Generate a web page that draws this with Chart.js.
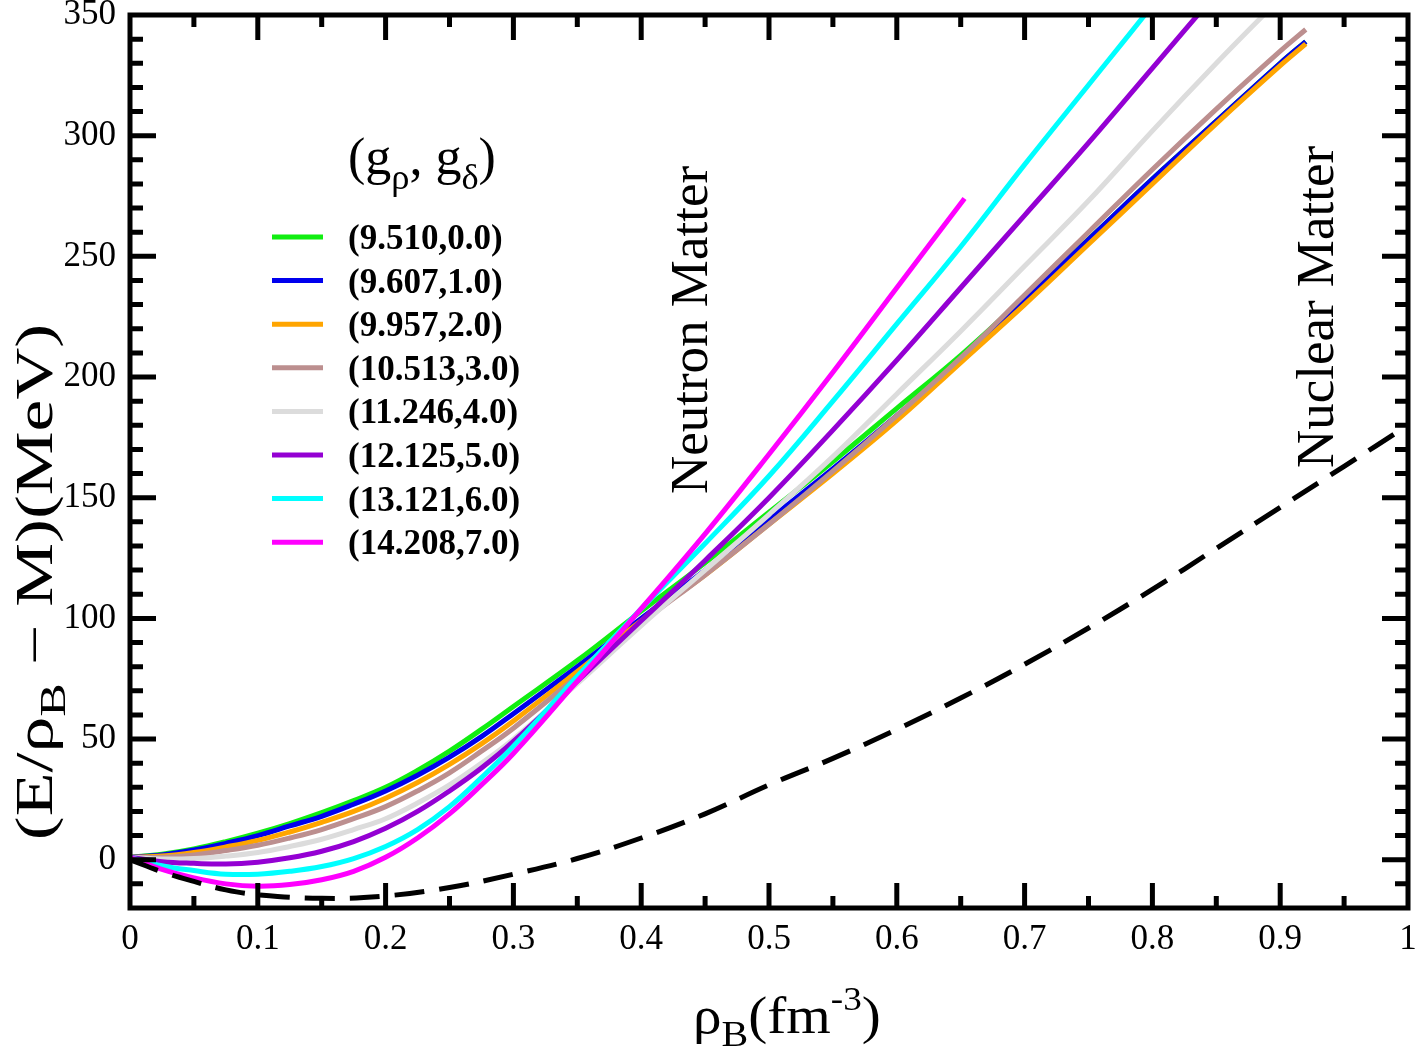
<!DOCTYPE html>
<html>
<head>
<meta charset="utf-8">
<script src="https://cdn.jsdelivr.net/npm/chart.js@4.4.1/dist/chart.umd.min.js"></script>
<style>
    html, body { margin: 0; padding: 0; background: #fff; }
    #wrap { width: 1417px; height: 1059px; position: relative; }
</style>
</head>
<body>
<div id="wrap"><canvas id="eosChart"></canvas></div>
<script>
// density grid (fm^-3) shared by the neutron matter curves
const rho = [0, 0.025, 0.05, 0.075, 0.1, 0.125, 0.15, 0.175, 0.2, 0.225, 0.25, 0.275, 0.3, 0.35, 0.4, 0.45, 0.5, 0.55, 0.6, 0.65, 0.7, 0.75, 0.8, 0.85, 0.9, 0.92];
const rhoMagenta = [0, 0.025, 0.05, 0.075, 0.1, 0.125, 0.15, 0.175, 0.2, 0.225, 0.25, 0.275, 0.3, 0.35, 0.4, 0.45, 0.5, 0.55, 0.6, 0.653];
const rhoNuclear = [0, 0.025, 0.05, 0.075, 0.1, 0.15, 0.2, 0.25, 0.3, 0.35, 0.4, 0.45, 0.5, 0.55, 0.6, 0.65, 0.7, 0.75, 0.8, 0.85, 0.9, 0.95, 1.0];

// E/rho_B - M (MeV), neutron matter, one array per (g_rho, g_delta)
const eDelta0 = [1, 2.3, 4.5, 7.5, 11, 15, 19.5, 24.5, 30, 37, 45, 54, 63.5, 82.5, 103, 123, 144, 165, 187, 209, 233, 257, 282, 306, 330, 339];
const eDelta1 = [1, 2, 4, 6.8, 10, 14, 18, 23, 28.5, 35, 42.5, 51, 60.5, 80, 100, 120, 141, 162, 184, 207, 232, 257, 282, 306, 330, 339];
const eDelta2 = [1, 1.5, 3, 5.3, 8, 11.5, 15.5, 20, 25.5, 32, 39.5, 48, 57.5, 78, 99, 118, 139, 160, 182, 206, 230, 255, 280, 305, 329, 338];
const eDelta3 = [1, 1, 2, 3.8, 6, 9, 12.5, 17, 22, 28.5, 36, 45, 54.5, 76, 98, 118, 139, 161, 184, 208, 234, 260, 286, 311, 335, 344];
const eDelta4 = [1, 0.3, 0.5, 1.5, 3, 5.5, 8.5, 12.5, 17, 23.5, 31, 40, 50, 73, 97, 120, 143, 167, 193, 219, 246, 273, 302, 330, 357, 368];
const eDelta5 = [1, -0.8, -1.5, -1.8, -1, 0.8, 3.5, 7.5, 13, 20, 28.5, 38, 49, 74, 99, 124, 150, 178, 207, 237, 267, 297, 328, 359, 390, 402];
const eDelta6 = [1, -2.5, -4.5, -6, -6, -4.8, -2.8, 0.5, 5.5, 12.5, 22, 34, 47, 76, 104, 131, 159, 190, 222, 254, 288, 321, 354, 388, 422, 436];
const eDelta7 = [1, -4, -7.5, -10, -11, -10.3, -8.3, -4.8, 1, 9, 19, 31, 44, 74, 104, 135, 168, 202, 237, 274];

// symmetric nuclear matter (dashed)
const eNuclear = [0, -5, -9, -12.5, -14.5, -16, -15, -11.5, -6, 0.5, 9, 19, 31, 42, 54, 67, 81, 96, 112, 129, 146, 163, 180];

const seriesLabels = ["(9.510,0.0)", "(9.607,1.0)", "(9.957,2.0)", "(10.513,3.0)", "(11.246,4.0)", "(12.125,5.0)", "(13.121,6.0)", "(14.208,7.0)"];
const seriesColors = ["#11ee11", "#0000ee", "#ffa500", "#bc8f8f", "#dcdcdc", "#9400d3", "#00ffff", "#ff00ff"];

const xTickValues = [0, 0.1, 0.2, 0.3, 0.4, 0.5, 0.6, 0.7, 0.8, 0.9, 1];
const xTickLabels = ["0", "0.1", "0.2", "0.3", "0.4", "0.5", "0.6", "0.7", "0.8", "0.9", "1"];
const yTickValues = [0, 50, 100, 150, 200, 250, 300, 350];
const yTickLabels = ["0", "50", "100", "150", "200", "250", "300", "350"];

const SERIF = "'Liberation Serif', 'Times New Roman', serif";

function toPoints(xs, ys) {
    return ys.map(function (y, i) {
        return { x: xs[i], y: y };
    });
}

const curves = [eDelta0, eDelta1, eDelta2, eDelta3, eDelta4, eDelta5, eDelta6, eDelta7];
const datasets = curves.map(function (vals, i) {
    return {
        label: seriesLabels[i],
        data: toPoints(i === 7 ? rhoMagenta : rho, vals),
        borderColor: seriesColors[i],
        borderWidth: 5,
        pointRadius: 0,
        tension: 0.4,
        order: 10 - i,
    };
});
datasets.push({
    label: "Nuclear Matter",
    data: toPoints(rhoNuclear, eNuclear),
    borderColor: "#000",
    borderWidth: 5,
    borderDash: [30, 15],
    borderCapStyle: "butt",
    pointRadius: 0,
    tension: 0.4,
    order: 0,
});

// draw text made of pieces (subscripts / superscripts), returns width
function drawRich(ctx, parts, x, y, size, weight, measureOnly) {
    let cx = x;
    parts.forEach(function (p) {
        const s = size * (p.scale || 1);
        ctx.font = (weight || "normal") + " " + s + "px " + SERIF;
        if (!measureOnly) ctx.fillText(p.t, cx, y + (p.dy || 0) * size);
        cx += ctx.measureText(p.t).width;
    });
    return cx - x;
}

const decorPlugin = {
    id: "decor",
    afterDatasetsDraw: function (chart) {
        const ctx = chart.ctx;
        const a = chart.chartArea;
        const xs = chart.scales.x;
        const ys = chart.scales.y;
        ctx.save();

        // frame with inward ticks
        ctx.strokeStyle = "#000";
        ctx.lineWidth = 5;
        ctx.lineCap = "butt";
        ctx.beginPath();
        for (let i = 1; i < 20; i++) {
            const px = xs.getPixelForValue(i * 0.05);
            const len = i % 2 === 0 ? 25 : 12;
            ctx.moveTo(px, a.bottom); ctx.lineTo(px, a.bottom - len);
            ctx.moveTo(px, a.top); ctx.lineTo(px, a.top + len);
        }
        for (let v = -10; v < 350; v += 10) {
            const py = ys.getPixelForValue(v);
            const len = v % 50 === 0 ? 26 : 13;
            ctx.moveTo(a.left, py); ctx.lineTo(a.left + len, py);
            ctx.moveTo(a.right, py); ctx.lineTo(a.right - len, py);
        }
        ctx.stroke();
        ctx.strokeRect(a.left, a.top, a.right - a.left, a.bottom - a.top);

        ctx.fillStyle = "#000";
        ctx.textBaseline = "alphabetic";

        // legend
        drawRich(ctx, [{ t: "(g" }, { t: "ρ", scale: 0.7, dy: 0.28 }, { t: ", g" }, { t: "δ", scale: 0.7, dy: 0.28 }, { t: ")" }], 348, 174, 52, "normal");
        seriesLabels.forEach(function (lab, i) {
            const ly = 237 + i * 43.6;
            ctx.strokeStyle = seriesColors[i];
            ctx.lineWidth = 5;
            ctx.beginPath();
            ctx.moveTo(272, ly); ctx.lineTo(323, ly);
            ctx.stroke();
            ctx.font = "bold 35px " + SERIF;
            ctx.fillText(lab, 348, ly + 12);
        });

        // rotated annotations
        ctx.font = "53px " + SERIF;
        ctx.textAlign = "center";
        ctx.save();
        ctx.translate(707, 330);
        ctx.rotate(-Math.PI / 2);
        ctx.fillText("Neutron Matter", 0, 0);
        ctx.restore();
        ctx.save();
        ctx.translate(1333, 307);
        ctx.rotate(-Math.PI / 2);
        ctx.fillText("Nuclear Matter", 0, 0);
        ctx.restore();
        ctx.textAlign = "left";

        // axis titles
        const yTitle = [{ t: "(E/ρ" }, { t: "B", scale: 0.7, dy: 0.25 }, { t: " − M)(MeV)" }];
        const yw = drawRich(ctx, yTitle, 0, 0, 52, "normal", true);
        ctx.save();
        ctx.translate(52, 582);
        ctx.rotate(-Math.PI / 2);
        ctx.scale(1.38, 1);
        drawRich(ctx, yTitle, -yw / 2, 0, 52, "normal");
        ctx.restore();

        const xTitle = [{ t: "ρ" }, { t: "B", scale: 0.7, dy: 0.25 }, { t: "(fm" }, { t: "-3", scale: 0.65, dy: -0.45 }, { t: ")" }];
        ctx.save();
        ctx.translate(693, 1033);
        ctx.scale(1.1, 1);
        drawRich(ctx, xTitle, 0, 0, 52, "normal");
        ctx.restore();

        ctx.restore();
    },
};

new Chart(document.getElementById("eosChart"), {
    type: "line",
    data: { datasets: datasets },
    options: {
        responsive: true,
        maintainAspectRatio: false,
        animation: false,
        layout: { padding: { top: 15, right: 9, left: 0, bottom: 0 } },
        plugins: {
            legend: { display: false },
            tooltip: { enabled: false },
        },
        scales: {
            x: {
                type: "linear",
                min: 0,
                max: 1,
                grid: { display: false },
                border: { display: false },
                afterBuildTicks: function (s) {
                    s.ticks = xTickValues.map(function (v) { return { value: v }; });
                },
                afterFit: function (s) {
                    s.height = 151;
                    s.paddingLeft = 0;
                    s.paddingRight = 0;
                },
                ticks: {
                    color: "#000",
                    font: { family: SERIF, size: 35 },
                    padding: 3,
                    maxRotation: 0,
                    autoSkip: false,
                    callback: function (v, i) { return xTickLabels[i]; },
                },
            },
            y: {
                type: "linear",
                min: -20,
                max: 350,
                grid: { display: false },
                border: { display: false },
                afterBuildTicks: function (s) {
                    s.ticks = yTickValues.map(function (v) { return { value: v }; });
                },
                afterFit: function (s) {
                    s.width = 130;
                    s.paddingTop = 0;
                    s.paddingBottom = 0;
                },
                ticks: {
                    color: "#000",
                    font: { family: SERIF, size: 35 },
                    padding: 6,
                    autoSkip: false,
                    callback: function (v, i) { return yTickLabels[i]; },
                },
            },
        },
    },
    plugins: [decorPlugin],
});
</script>
</body>
</html>
